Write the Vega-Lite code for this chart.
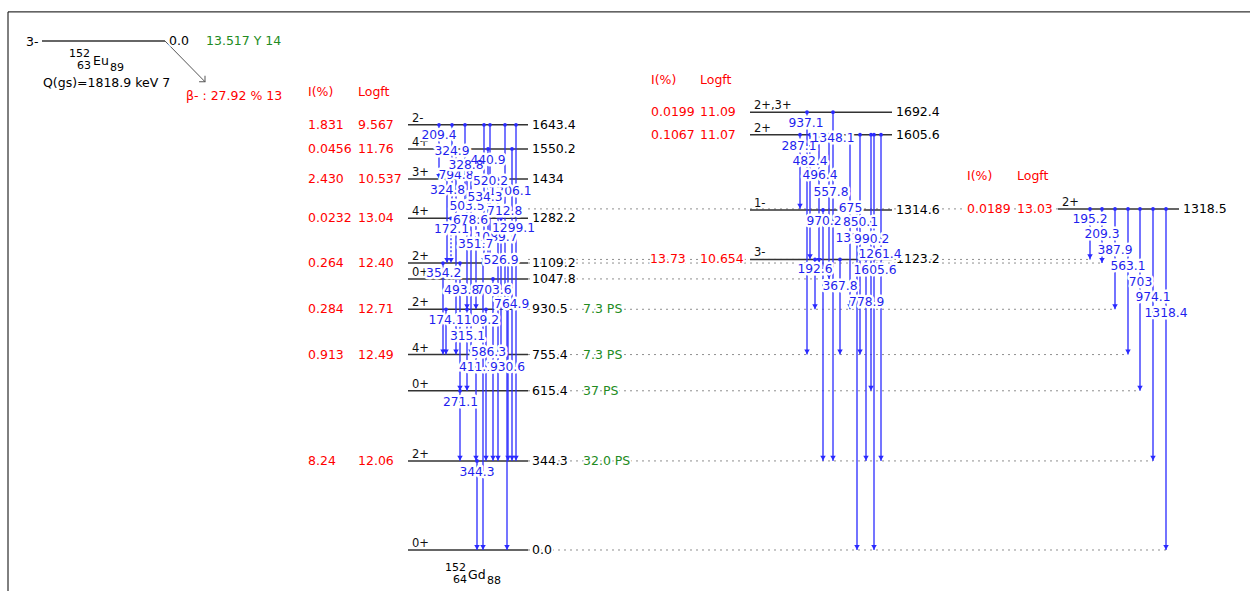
{
  "$schema": "https://vega.github.io/schema/vega-lite/v6.json",
  "width": 1250,
  "height": 591,
  "autosize": {"type": "none"},
  "padding": 0,
  "background": "white",
  "config": {"view": {"stroke": null}, "axis": {"disable": true}, "legend": {"disable": true}, "text": {"font": "DejaVu Sans"}},
  "datasets": {
    "frame": [
      {"x": 8, "e": 2080, "x2": 1250, "e2": 2080},
      {"x": 8, "e": 2080, "x2": 8, "e2": -160}
    ],
    "dots": [
      {"e": 1318.5, "x": 528, "x2": 1058},
      {"e": 1123.2, "x": 528, "x2": 1090},
      {"e": 1109.2, "x": 528, "x2": 1102},
      {"e": 1047.8, "x": 528, "x2": 830},
      {"e": 930.5, "x": 528, "x2": 1115},
      {"e": 755.4, "x": 528, "x2": 1128},
      {"e": 615.4, "x": 528, "x2": 1140},
      {"e": 344.3, "x": 528, "x2": 1153},
      {"e": 0, "x": 528, "x2": 1166}
    ],
    "levels": [
      {"e": 1967.5, "x": 42, "x2": 165, "lab": "0.0", "hl": "13.517 Y 14", "hx": 206},
      {"e": 1643.4, "x": 408, "x2": 528, "spin": "2-", "lab": "1643.4", "ip": "1.831", "lf": "9.567", "ix": 308, "fx": 358},
      {"e": 1550.2, "x": 408, "x2": 528, "spin": "4+", "lab": "1550.2", "ip": "0.0456", "lf": "11.76", "ix": 308, "fx": 358},
      {"e": 1434, "x": 408, "x2": 528, "spin": "3+", "lab": "1434", "ip": "2.430", "lf": "10.537", "ix": 308, "fx": 358},
      {"e": 1282.2, "x": 408, "x2": 528, "spin": "4+", "lab": "1282.2", "ip": "0.0232", "lf": "13.04", "ix": 308, "fx": 358},
      {"e": 1109.2, "x": 408, "x2": 528, "spin": "2+", "lab": "1109.2", "ip": "0.264", "lf": "12.40", "ix": 308, "fx": 358},
      {"e": 1047.8, "x": 408, "x2": 528, "spin": "0+", "lab": "1047.8"},
      {"e": 930.5, "x": 408, "x2": 528, "spin": "2+", "lab": "930.5", "ip": "0.284", "lf": "12.71", "ix": 308, "fx": 358, "hl": "7.3 PS", "hx": 583},
      {"e": 755.4, "x": 408, "x2": 528, "spin": "4+", "lab": "755.4", "ip": "0.913", "lf": "12.49", "ix": 308, "fx": 358, "hl": "7.3 PS", "hx": 583},
      {"e": 615.4, "x": 408, "x2": 528, "spin": "0+", "lab": "615.4", "hl": "37 PS", "hx": 583},
      {"e": 344.3, "x": 408, "x2": 528, "spin": "2+", "lab": "344.3", "ip": "8.24", "lf": "12.06", "ix": 308, "fx": 358, "hl": "32.0 PS", "hx": 583},
      {"e": 0, "x": 408, "x2": 528, "spin": "0+", "lab": "0.0"},
      {"e": 1692.4, "x": 750, "x2": 892, "spin": "2+,3+", "lab": "1692.4", "ip": "0.0199", "lf": "11.09", "ix": 651, "fx": 700},
      {"e": 1605.6, "x": 750, "x2": 892, "spin": "2+", "lab": "1605.6", "ip": "0.1067", "lf": "11.07", "ix": 651, "fx": 700},
      {"e": 1314.6, "x": 750, "x2": 892, "spin": "1-", "lab": "1314.6"},
      {"e": 1123.2, "x": 750, "x2": 892, "spin": "3-", "lab": "1123.2", "ip": "13.73", "lf": "10.654", "ix": 650, "fx": 700},
      {"e": 1318.5, "x": 1058, "x2": 1179, "spin": "2+", "lab": "1318.5", "ip": "0.0189", "lf": "13.03", "ix": 967, "fx": 1017}
    ],
    "gammas": [
      {"x": 439, "e": 1643.4, "e2": 1434, "g": "209.4", "gx": 439, "ly": 1604.2},
      {"x": 452, "e": 1643.4, "e2": 1318.5, "g": "324.9", "gx": 452, "ly": 1542.3},
      {"x": 488, "e": 1550.2, "e2": 1109.2, "g": "440.9", "gx": 488, "ly": 1507.5},
      {"x": 465, "e": 1643.4, "e2": 1314.6, "g": "328.8", "gx": 466, "ly": 1488.2},
      {"x": 456, "e": 1550.2, "e2": 755.4, "g": "794.8", "gx": 456, "ly": 1449.6},
      {"x": 512, "e": 1550.2, "e2": 344.3, "g": "1206.1", "gx": 510, "ly": 1387.7},
      {"x": 490, "e": 1643.4, "e2": 1123.2, "g": "520.2", "gx": 490.5, "ly": 1427.5},
      {"x": 447, "e": 1434, "e2": 1109.2, "g": "324.8", "gx": 447.5, "ly": 1391.6},
      {"x": 484, "e": 1643.4, "e2": 1109.2, "g": "534.3", "gx": 485, "ly": 1364.5},
      {"x": 467, "e": 1434, "e2": 930.5, "g": "503.5", "gx": 467, "ly": 1329.7},
      {"x": 505, "e": 1643.4, "e2": 930.5, "g": "712.8", "gx": 504.7, "ly": 1311.6},
      {"x": 471, "e": 1434, "e2": 755.4, "g": "678.6", "gx": 470.5, "ly": 1275.6},
      {"x": 516, "e": 1643.4, "e2": 344.3, "g": "1299.1", "gx": 513.5, "ly": 1244.7},
      {"x": 451, "e": 1282.2, "e2": 1109.2, "g": "172.1", "gx": 451.5, "ly": 1240.8, "unc": "y"},
      {"x": 498, "e": 1434, "e2": 344.3, "g": "1089.7", "gx": 496, "ly": 1211.1},
      {"x": 476, "e": 1282.2, "e2": 930.5, "g": "351.7", "gx": 475.7, "ly": 1182.8},
      {"x": 501, "e": 1282.2, "e2": 755.4, "g": "526.9", "gx": 501, "ly": 1121.0},
      {"x": 443, "e": 1109.2, "e2": 755.4, "g": "354.2", "gx": 443.7, "ly": 1070.7},
      {"x": 460, "e": 1109.2, "e2": 615.4, "g": "493.8", "gx": 461.7, "ly": 1005.0},
      {"x": 493, "e": 1047.8, "e2": 344.3, "g": "703.6", "gx": 494, "ly": 1005.0},
      {"x": 508, "e": 1109.2, "e2": 344.3, "g": "764.9", "gx": 511.7, "ly": 950.9},
      {"x": 446, "e": 930.5, "e2": 755.4, "g": "174.8", "gx": 446, "ly": 889.1},
      {"x": 483, "e": 1109.2, "e2": 0, "g": "1109.2", "gx": 477.5, "ly": 889.1},
      {"x": 467, "e": 930.5, "e2": 615.4, "g": "315.1", "gx": 467.5, "ly": 828.4},
      {"x": 486, "e": 930.5, "e2": 344.3, "g": "586.3", "gx": 488.5, "ly": 766.5},
      {"x": 476, "e": 755.4, "e2": 344.3, "g": "411.1", "gx": 476.5, "ly": 708.5},
      {"x": 507, "e": 930.5, "e2": 0, "g": "930.6", "gx": 507.5, "ly": 708.5},
      {"x": 460, "e": 615.4, "e2": 344.3, "g": "271.1", "gx": 460.5, "ly": 573.3},
      {"x": 477, "e": 344.3, "e2": 0, "g": "344.3", "gx": 477, "ly": 302.7},
      {"x": 807, "e": 1692.4, "e2": 755.4, "g": "937.1", "gx": 806, "ly": 1651.7},
      {"x": 833, "e": 1692.4, "e2": 344.3, "g": "1348.1", "gx": 833, "ly": 1593.7},
      {"x": 800, "e": 1605.6, "e2": 1318.5, "g": "287.1", "gx": 799, "ly": 1562.8},
      {"x": 810, "e": 1605.6, "e2": 1123.2, "g": "482.4", "gx": 810, "ly": 1503.7},
      {"x": 819, "e": 1605.6, "e2": 1109.2, "g": "496.4", "gx": 820, "ly": 1449.6},
      {"x": 829, "e": 1605.6, "e2": 1047.8, "g": "557.8", "gx": 831, "ly": 1383.8},
      {"x": 850, "e": 1605.6, "e2": 930.5, "g": "675", "gx": 850.5, "ly": 1323.2},
      {"x": 857, "e": 1314.6, "e2": 0, "g": "1314.5", "gx": 857, "ly": 1207.2},
      {"x": 823, "e": 1314.6, "e2": 344.3, "g": "970.2", "gx": 824, "ly": 1272.9},
      {"x": 860, "e": 1605.6, "e2": 755.4, "g": "850.1", "gx": 860.5, "ly": 1269.0},
      {"x": 871, "e": 1605.6, "e2": 615.4, "g": "990.2", "gx": 871.7, "ly": 1202.2},
      {"x": 881, "e": 1605.6, "e2": 344.3, "g": "1261.4", "gx": 880, "ly": 1144.2},
      {"x": 815, "e": 1123.2, "e2": 930.5, "g": "192.6", "gx": 815, "ly": 1086.2},
      {"x": 874, "e": 1605.6, "e2": 0, "g": "1605.6", "gx": 875, "ly": 1082.3},
      {"x": 840, "e": 1123.2, "e2": 755.4, "g": "367.8", "gx": 840, "ly": 1020.5},
      {"x": 866, "e": 1123.2, "e2": 344.3, "g": "778.9", "gx": 866.7, "ly": 959.8},
      {"x": 1090, "e": 1318.5, "e2": 1123.2, "g": "195.2", "gx": 1090, "ly": 1279.5},
      {"x": 1102, "e": 1318.5, "e2": 1109.2, "g": "209.3", "gx": 1102, "ly": 1221.5},
      {"x": 1115, "e": 1318.5, "e2": 930.5, "g": "387.9", "gx": 1115, "ly": 1159.7},
      {"x": 1128, "e": 1318.5, "e2": 755.4, "g": "563.1", "gx": 1128, "ly": 1097.8},
      {"x": 1140, "e": 1318.5, "e2": 615.4, "g": "703", "gx": 1140.5, "ly": 1036.0},
      {"x": 1153, "e": 1318.5, "e2": 344.3, "g": "974.1", "gx": 1153, "ly": 978.0},
      {"x": 1166, "e": 1318.5, "e2": 0, "g": "1318.4", "gx": 1166, "ly": 916.1}
    ],
    "parr": [
      {"x": 165, "e": 1967.5, "x2": 205, "e2": 1810}
    ],
    "misc": [
      {"x": 26, "e": 1965, "t": "3-", "k": "black"},
      {"x": 93, "e": 1890, "t": "Eu", "k": "black"},
      {"x": 43, "e": 1804, "t": "Q(gs)=1818.9 keV 7", "k": "black"},
      {"x": 186, "e": 1756, "t": "β- : 27.92 % 13", "k": "red"},
      {"x": 308, "e": 1769, "t": "I(%)", "k": "red"},
      {"x": 358, "e": 1769, "t": "Logft", "k": "red"},
      {"x": 651, "e": 1817, "t": "I(%)", "k": "red"},
      {"x": 700, "e": 1817, "t": "Logft", "k": "red"},
      {"x": 967, "e": 1446, "t": "I(%)", "k": "red"},
      {"x": 1017, "e": 1446, "t": "Logft", "k": "red"},
      {"x": 468, "e": -96.6, "t": "Gd", "k": "black"}
    ],
    "nuc": [
      {"x": 69, "e": 1917, "t": "152"},
      {"x": 77, "e": 1871, "t": "63"},
      {"x": 110, "e": 1865, "t": "89"},
      {"x": 445, "e": -70.7, "t": "152"},
      {"x": 453, "e": -116, "t": "64"},
      {"x": 487, "e": -118.7, "t": "88"}
    ]
  },
  "layer": [
    {
      "data": {"name": "frame"},
      "mark": {"type": "rule", "color": "#000000", "strokeWidth": 1},
      "encoding": {
        "x": {"field": "x", "type": "quantitative", "scale": {"domain": [0, 1250], "nice": false, "zero": false}},
        "y": {"field": "e", "type": "quantitative", "scale": {"domain": [-158.5, 2126], "nice": false, "zero": false}},
        "x2": {"field": "x2"},
        "y2": {"field": "e2"}
      }
    },
    {
      "data": {"name": "dots"},
      "mark": {"type": "rule", "color": "#8f8f8f", "strokeWidth": 1, "strokeDash": [2, 4]},
      "encoding": {
        "x": {"field": "x", "type": "quantitative", "scale": {"domain": [0, 1250], "nice": false, "zero": false}},
        "x2": {"field": "x2"},
        "y": {"field": "e", "type": "quantitative", "scale": {"domain": [-158.5, 2126], "nice": false, "zero": false}}
      }
    },
    {
      "data": {"name": "levels"},
      "mark": {"type": "rule", "color": "#333333", "strokeWidth": 1.5},
      "encoding": {
        "x": {"field": "x", "type": "quantitative", "scale": {"domain": [0, 1250], "nice": false, "zero": false}},
        "x2": {"field": "x2"},
        "y": {"field": "e", "type": "quantitative", "scale": {"domain": [-158.5, 2126], "nice": false, "zero": false}}
      }
    },
    {
      "data": {"name": "parr"},
      "mark": {"type": "rule", "color": "#555555", "strokeWidth": 1},
      "encoding": {
        "x": {"field": "x", "type": "quantitative", "scale": {"domain": [0, 1250], "nice": false, "zero": false}},
        "y": {"field": "e", "type": "quantitative", "scale": {"domain": [-158.5, 2126], "nice": false, "zero": false}},
        "x2": {"field": "x2"},
        "y2": {"field": "e2"}
      }
    },
    {
      "data": {"name": "parr"},
      "mark": {"type": "point", "shape": "M-1,-1L0,0L1,-1", "filled": false, "stroke": "#555555", "strokeWidth": 1, "size": 70, "angle": -45, "opacity": 1},
      "encoding": {
        "x": {"field": "x2", "type": "quantitative", "scale": {"domain": [0, 1250], "nice": false, "zero": false}},
        "y": {"field": "e2", "type": "quantitative", "scale": {"domain": [-158.5, 2126], "nice": false, "zero": false}}
      }
    },
    {
      "data": {"name": "gammas"},
      "mark": {"type": "rule", "color": "#2a2aff", "strokeWidth": 1.3},
      "encoding": {
        "x": {"field": "x", "type": "quantitative", "scale": {"domain": [0, 1250], "nice": false, "zero": false}},
        "y": {"field": "e", "type": "quantitative", "scale": {"domain": [-158.5, 2126], "nice": false, "zero": false}},
        "y2": {"field": "e2"},
        "strokeDash": {"condition": {"test": "datum.unc === 'y'", "value": [2, 2]}, "value": [1, 0]}
      }
    },
    {
      "data": {"name": "gammas"},
      "mark": {"type": "point", "shape": "circle", "filled": true, "color": "#2a2aff", "size": 14, "opacity": 1},
      "encoding": {
        "x": {"field": "x", "type": "quantitative", "scale": {"domain": [0, 1250], "nice": false, "zero": false}},
        "y": {"field": "e", "type": "quantitative", "scale": {"domain": [-158.5, 2126], "nice": false, "zero": false}}
      }
    },
    {
      "data": {"name": "gammas"},
      "mark": {"type": "point", "shape": "triangle-down", "filled": true, "color": "#2a2aff", "size": 30, "opacity": 1, "yOffset": -2.7},
      "encoding": {
        "x": {"field": "x", "type": "quantitative", "scale": {"domain": [0, 1250], "nice": false, "zero": false}},
        "y": {"field": "e2", "type": "quantitative", "scale": {"domain": [-158.5, 2126], "nice": false, "zero": false}}
      }
    },
    {
      "data": {"name": "levels"},
      "transform": [{"filter": "datum.spin != null"}],
      "mark": {"type": "text", "align": "left", "baseline": "alphabetic", "xOffset": 4, "yOffset": -3, "fontSize": 11.5, "color": "#111111"},
      "encoding": {
        "x": {"field": "x", "type": "quantitative", "scale": {"domain": [0, 1250], "nice": false, "zero": false}},
        "y": {"field": "e", "type": "quantitative", "scale": {"domain": [-158.5, 2126], "nice": false, "zero": false}},
        "text": {"field": "spin"}
      }
    },
    {
      "data": {"name": "levels"},
      "mark": {"type": "text", "align": "left", "baseline": "middle", "xOffset": 4, "fontSize": 12.5, "color": "white", "stroke": "white", "strokeWidth": 4, "strokeJoin": "round"},
      "encoding": {
        "x": {"field": "x2", "type": "quantitative", "scale": {"domain": [0, 1250], "nice": false, "zero": false}},
        "y": {"field": "e", "type": "quantitative", "scale": {"domain": [-158.5, 2126], "nice": false, "zero": false}},
        "text": {"field": "lab"}
      }
    },
    {
      "data": {"name": "levels"},
      "mark": {"type": "text", "align": "left", "baseline": "middle", "xOffset": 4, "fontSize": 12.5, "color": "#000000"},
      "encoding": {
        "x": {"field": "x2", "type": "quantitative", "scale": {"domain": [0, 1250], "nice": false, "zero": false}},
        "y": {"field": "e", "type": "quantitative", "scale": {"domain": [-158.5, 2126], "nice": false, "zero": false}},
        "text": {"field": "lab"}
      }
    },
    {
      "data": {"name": "levels"},
      "transform": [{"filter": "datum.ip != null"}],
      "mark": {"type": "text", "align": "left", "baseline": "middle", "fontSize": 12.5, "color": "white", "stroke": "white", "strokeWidth": 4, "strokeJoin": "round"},
      "encoding": {
        "x": {"field": "ix", "type": "quantitative", "scale": {"domain": [0, 1250], "nice": false, "zero": false}},
        "y": {"field": "e", "type": "quantitative", "scale": {"domain": [-158.5, 2126], "nice": false, "zero": false}},
        "text": {"field": "ip"}
      }
    },
    {
      "data": {"name": "levels"},
      "transform": [{"filter": "datum.ip != null"}],
      "mark": {"type": "text", "align": "left", "baseline": "middle", "fontSize": 12.5, "color": "#ff0000"},
      "encoding": {
        "x": {"field": "ix", "type": "quantitative", "scale": {"domain": [0, 1250], "nice": false, "zero": false}},
        "y": {"field": "e", "type": "quantitative", "scale": {"domain": [-158.5, 2126], "nice": false, "zero": false}},
        "text": {"field": "ip"}
      }
    },
    {
      "data": {"name": "levels"},
      "transform": [{"filter": "datum.lf != null"}],
      "mark": {"type": "text", "align": "left", "baseline": "middle", "fontSize": 12.5, "color": "white", "stroke": "white", "strokeWidth": 4, "strokeJoin": "round"},
      "encoding": {
        "x": {"field": "fx", "type": "quantitative", "scale": {"domain": [0, 1250], "nice": false, "zero": false}},
        "y": {"field": "e", "type": "quantitative", "scale": {"domain": [-158.5, 2126], "nice": false, "zero": false}},
        "text": {"field": "lf"}
      }
    },
    {
      "data": {"name": "levels"},
      "transform": [{"filter": "datum.lf != null"}],
      "mark": {"type": "text", "align": "left", "baseline": "middle", "fontSize": 12.5, "color": "#ff0000"},
      "encoding": {
        "x": {"field": "fx", "type": "quantitative", "scale": {"domain": [0, 1250], "nice": false, "zero": false}},
        "y": {"field": "e", "type": "quantitative", "scale": {"domain": [-158.5, 2126], "nice": false, "zero": false}},
        "text": {"field": "lf"}
      }
    },
    {
      "data": {"name": "levels"},
      "transform": [{"filter": "datum.hl != null"}],
      "mark": {"type": "text", "align": "left", "baseline": "middle", "fontSize": 12.5, "color": "white", "stroke": "white", "strokeWidth": 4, "strokeJoin": "round"},
      "encoding": {
        "x": {"field": "hx", "type": "quantitative", "scale": {"domain": [0, 1250], "nice": false, "zero": false}},
        "y": {"field": "e", "type": "quantitative", "scale": {"domain": [-158.5, 2126], "nice": false, "zero": false}},
        "text": {"field": "hl"}
      }
    },
    {
      "data": {"name": "levels"},
      "transform": [{"filter": "datum.hl != null"}],
      "mark": {"type": "text", "align": "left", "baseline": "middle", "fontSize": 12.5, "color": "#228b22"},
      "encoding": {
        "x": {"field": "hx", "type": "quantitative", "scale": {"domain": [0, 1250], "nice": false, "zero": false}},
        "y": {"field": "e", "type": "quantitative", "scale": {"domain": [-158.5, 2126], "nice": false, "zero": false}},
        "text": {"field": "hl"}
      }
    },
    {
      "data": {"name": "gammas"},
      "transform": [{"filter": {"field": "g", "oneOf": ["794.8", "1089.7", "411.1", "174.8", "1206.1", "1314.5", "503.5"]}}],
      "mark": {"type": "text", "align": "center", "baseline": "middle", "fontSize": 12.3, "color": "white", "stroke": "white", "strokeWidth": 5, "strokeJoin": "round"},
      "encoding": {
        "x": {"field": "gx", "type": "quantitative", "scale": {"domain": [0, 1250], "nice": false, "zero": false}},
        "y": {"field": "ly", "type": "quantitative", "scale": {"domain": [-158.5, 2126], "nice": false, "zero": false}},
        "text": {"field": "g"}
      }
    },
    {
      "data": {"name": "gammas"},
      "transform": [{"filter": {"field": "g", "oneOf": ["794.8", "1089.7", "411.1", "174.8", "1206.1", "1314.5", "503.5"]}}],
      "mark": {"type": "text", "align": "center", "baseline": "middle", "fontSize": 12.3, "color": "#1f1fee"},
      "encoding": {
        "x": {"field": "gx", "type": "quantitative", "scale": {"domain": [0, 1250], "nice": false, "zero": false}},
        "y": {"field": "ly", "type": "quantitative", "scale": {"domain": [-158.5, 2126], "nice": false, "zero": false}},
        "text": {"field": "g"}
      }
    },
    {
      "data": {"name": "gammas"},
      "transform": [{"filter": {"not": {"field": "g", "oneOf": ["794.8", "1089.7", "411.1", "174.8", "1206.1", "1314.5", "503.5"]}}}],
      "mark": {"type": "text", "align": "center", "baseline": "middle", "fontSize": 12.3, "color": "white", "stroke": "white", "strokeWidth": 5, "strokeJoin": "round"},
      "encoding": {
        "x": {"field": "gx", "type": "quantitative", "scale": {"domain": [0, 1250], "nice": false, "zero": false}},
        "y": {"field": "ly", "type": "quantitative", "scale": {"domain": [-158.5, 2126], "nice": false, "zero": false}},
        "text": {"field": "g"}
      }
    },
    {
      "data": {"name": "gammas"},
      "transform": [{"filter": {"not": {"field": "g", "oneOf": ["794.8", "1089.7", "411.1", "174.8", "1206.1", "1314.5", "503.5"]}}}],
      "mark": {"type": "text", "align": "center", "baseline": "middle", "fontSize": 12.3, "color": "#1f1fee"},
      "encoding": {
        "x": {"field": "gx", "type": "quantitative", "scale": {"domain": [0, 1250], "nice": false, "zero": false}},
        "y": {"field": "ly", "type": "quantitative", "scale": {"domain": [-158.5, 2126], "nice": false, "zero": false}},
        "text": {"field": "g"}
      }
    },
    {
      "data": {"name": "misc"},
      "mark": {"type": "text", "align": "left", "baseline": "middle", "fontSize": 12.5},
      "encoding": {
        "x": {"field": "x", "type": "quantitative", "scale": {"domain": [0, 1250], "nice": false, "zero": false}},
        "y": {"field": "e", "type": "quantitative", "scale": {"domain": [-158.5, 2126], "nice": false, "zero": false}},
        "text": {"field": "t"},
        "color": {"field": "k", "type": "nominal", "scale": {"domain": ["black", "red", "green"], "range": ["#000000", "#ff0000", "#228b22"]}, "legend": null}
      }
    },
    {
      "data": {"name": "nuc"},
      "mark": {"type": "text", "align": "left", "baseline": "middle", "fontSize": 11, "color": "#000000"},
      "encoding": {
        "x": {"field": "x", "type": "quantitative", "scale": {"domain": [0, 1250], "nice": false, "zero": false}},
        "y": {"field": "e", "type": "quantitative", "scale": {"domain": [-158.5, 2126], "nice": false, "zero": false}},
        "text": {"field": "t"}
      }
    }
  ]
}
